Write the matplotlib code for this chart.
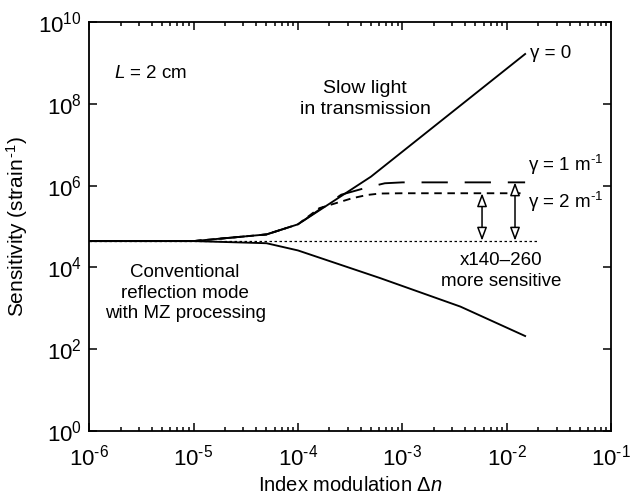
import matplotlib
matplotlib.use("Agg")
import matplotlib.pyplot as plt
from matplotlib.ticker import LogLocator, NullFormatter, NullLocator, FuncFormatter
import math

plt.rcParams['font.family'] = ['Liberation Sans', 'DejaVu Sans']
plt.rcParams['mathtext.fontset'] = 'custom'
plt.rcParams['mathtext.rm'] = 'Liberation Sans'
plt.rcParams['mathtext.it'] = 'Liberation Sans:italic'
plt.rcParams['mathtext.default'] = 'regular'

# ---- data ----
dn_gamma0 = [1e-6, 1e-5, 5e-5, 1e-4, 5e-4, 1.5e-2]
s_gamma0 = [4.4e4, 4.4e4, 6.4e4, 1.13e5, 1.65e6, 1.65e9]

dn_gamma1 = [1e-6, 1e-5, 5e-5, 1e-4, 2.6e-4, 4.6e-4, 6.8e-4, 1.0e-3, 1.5e-2]
s_gamma1 = [4.4e4, 4.4e4, 6.4e4, 1.13e5, 6.0e5, 9.0e5, 1.14e6, 1.2e6, 1.2e6]

dn_gamma2 = [1e-6, 1e-5, 5e-5, 1e-4, 1.6e-4, 3.3e-4, 4.6e-4, 6.1e-4, 1.0e-3, 1.5e-2]
s_gamma2 = [4.4e4, 4.4e4, 6.4e4, 1.13e5, 2.8e5, 4.9e5, 5.9e5, 6.4e5, 6.5e5, 6.5e5]

dn_conv = [1e-6, 1e-5, 5e-5, 1e-4, 6.1e-4, 3.6e-3, 1.5e-2]
s_conv = [4.4e4, 4.4e4, 3.9e4, 2.6e4, 5.5e3, 1.1e3, 2.1e2]

dn_ref = [1e-6, 2e-2]
s_ref = [4.5e4, 4.5e4]

arrow_dn = [5.8e-3, 1.2e-2]
arrow_top = [6.5e5, 1.2e6]
arrow_bottom = 4.5e4

x_ticks = [1e-6, 1e-5, 1e-4, 1e-3, 1e-2, 1e-1]
y_ticks = [1e0, 1e2, 1e4, 1e6, 1e8, 1e10]


def pow_fmt(v, pos=None):
    n = int(round(math.log10(v)))
    if n < 0:
        return r'$10^{\text{-}%d}$' % (-n)
    return r'$10^{%d}$' % n


fig = plt.figure(figsize=(6.32, 5.0), dpi=100)
ax = fig.add_axes([0.141, 0.138, 0.826, 0.818])

lw = 1.35
ax.plot(dn_gamma0, s_gamma0, color='black', lw=lw)
ax.plot(dn_conv, s_conv, color='black', lw=lw)
ax.plot(dn_gamma1, s_gamma1, color='black', lw=lw, dashes=(14, 9))
ax.plot(dn_gamma2, s_gamma2, color='black', lw=lw, dashes=(4, 3))
ax.plot(dn_ref, s_ref, color='black', lw=0.9, dashes=(2, 2))

for xa, ya in zip(arrow_dn, arrow_top):
    ax.annotate('', xy=(xa, ya), xytext=(xa, arrow_bottom),
                arrowprops=dict(arrowstyle='<|-|>,head_length=0.8,head_width=0.3',
                                facecolor='white', edgecolor='black', lw=1.1,
                                shrinkA=0, shrinkB=0))

ax.set_xscale('log')
ax.set_yscale('log')
ax.set_xlim(1e-6, 1e-1)
ax.set_ylim(1e0, 1e10)

ax.set_xticks(x_ticks)
ax.xaxis.set_minor_locator(LogLocator(base=10, subs=range(2, 10), numticks=20))
ax.xaxis.set_minor_formatter(NullFormatter())
ax.set_yticks(y_ticks)
ax.yaxis.set_minor_locator(NullLocator())
ax.xaxis.set_major_formatter(FuncFormatter(pow_fmt))
ax.yaxis.set_major_formatter(FuncFormatter(pow_fmt))

ax.tick_params(which='both', direction='in', top=True, right=True, labelsize=16, width=1.1)
ax.tick_params(which='major', length=6)
ax.tick_params(which='minor', length=3)
ax.tick_params(axis='x', pad=10)
ax.tick_params(axis='y', pad=5)
for s in ax.spines.values():
    s.set_linewidth(1.3)

ax.set_xlabel(r'Index modulation $\Delta\mathit{n}$', fontsize=14.5, labelpad=4)
ax.set_ylabel(r'Sensitivity (strain$^{\,\text{-}1}$)', fontsize=15, labelpad=6)

fs = 13.5
ax.text(0.117, 0.873, r'$\mathit{L}$ = 2 cm', transform=ax.transAxes, fontsize=fs, ha='center', va='center')
ax.text(0.529, 0.812, 'Slow light\nin transmission', transform=ax.transAxes, fontsize=14,
        ha='center', va='center', linespacing=1.25)
ax.text(0.845, 0.924, 'γ = 0', transform=ax.transAxes, fontsize=fs, ha='left', va='center')
ax.text(0.841, 0.650, r'γ = 1 m$^{\text{-}1}$', transform=ax.transAxes, fontsize=fs, ha='left', va='center')
ax.text(0.841, 0.561, r'γ = 2 m$^{\text{-}1}$', transform=ax.transAxes, fontsize=fs, ha='left', va='center')
ax.text(0.790, 0.391, 'x140–260\nmore sensitive', transform=ax.transAxes, fontsize=fs,
        ha='center', va='center', linespacing=1.25)
ax.text(0.184, 0.337, 'Conventional\nreflection mode\nwith MZ processing', transform=ax.transAxes,
        fontsize=fs, ha='center', va='center', linespacing=1.25)

fig.savefig('out.png', dpi=100)
